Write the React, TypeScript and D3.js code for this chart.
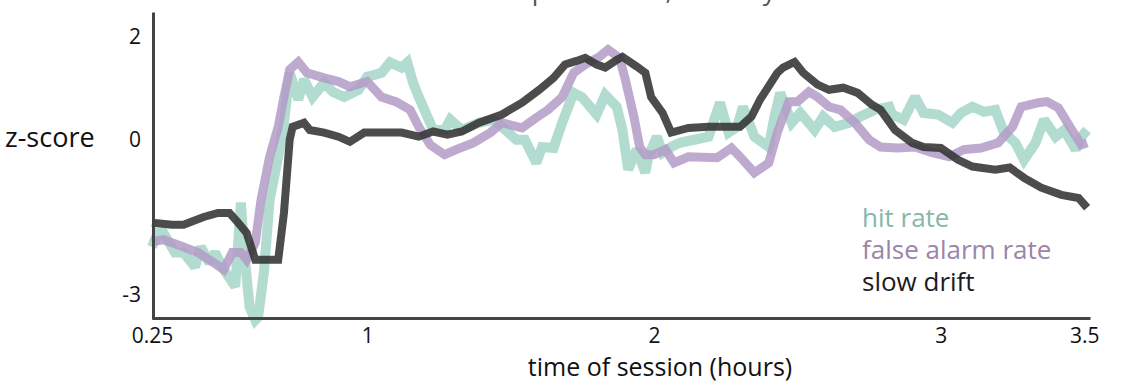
import React, { useEffect, useRef } from "react";
import * as d3 from "d3";

// hit rate (z-scored)
const hitTime = [0.25, 0.27, 0.29, 0.33, 0.36, 0.4, 0.42, 0.45, 0.47, 0.5, 0.54, 0.56, 0.57, 0.59, 0.61, 0.62, 0.64, 0.66, 0.69, 0.71, 0.73, 0.76, 0.78, 0.81, 0.85, 0.88, 0.92, 0.97, 1.0, 1.05, 1.08, 1.12, 1.14, 1.16, 1.18, 1.21, 1.23, 1.27, 1.29, 1.33, 1.39, 1.44, 1.47, 1.52, 1.55, 1.59, 1.61, 1.65, 1.68, 1.72, 1.75, 1.8, 1.83, 1.87, 1.89, 1.91, 1.94, 1.97, 1.98, 2.01, 2.03, 2.06, 2.09, 2.14, 2.19, 2.23, 2.26, 2.29, 2.31, 2.35, 2.4, 2.42, 2.44, 2.48, 2.51, 2.56, 2.59, 2.63, 2.68, 2.72, 2.77, 2.82, 2.83, 2.87, 2.91, 2.94, 2.99, 3.04, 3.07, 3.11, 3.15, 3.19, 3.22, 3.26, 3.29, 3.33, 3.36, 3.4, 3.43, 3.47, 3.49, 3.51];
const hitZ = [-2.08, -1.81, -1.81, -2.19, -2.19, -2.47, -2.08, -2.39, -2.19, -2.52, -2.85, -1.22, -2.08, -3.24, -3.5, -3.44, -2.58, -1.17, -0.33, 0.33, 1.3, 0.78, 1.17, 0.83, 1.11, 0.93, 0.83, 0.97, 1.22, 1.3, 1.5, 1.4, 1.5, 1.11, 0.83, 0.45, 0.19, 0.19, 0.39, 0.19, 0.33, 0.39, 0.25, 0.0, 0.0, -0.45, -0.14, -0.16, 0.33, 0.91, 0.82, 0.49, 0.87, 0.64, 0.19, -0.58, -0.19, -0.64, -0.33, 0.06, -0.25, -0.14, -0.06, 0.0, 0.06, 0.72, 0.14, 0.25, 0.64, 0.06, -0.14, 0.45, 0.91, 0.33, 0.52, 0.19, 0.45, 0.25, 0.33, 0.45, 0.58, 0.64, 0.49, 0.39, 0.83, 0.52, 0.49, 0.33, 0.52, 0.64, 0.54, 0.58, 0.14, -0.06, -0.39, -0.06, 0.39, 0.06, 0.19, -0.19, 0.06, 0.19];

// false alarm rate (z-scored)
const faTime = [0.25, 0.29, 0.36, 0.41, 0.46, 0.5, 0.53, 0.56, 0.58, 0.61, 0.63, 0.66, 0.69, 0.71, 0.73, 0.76, 0.79, 0.85, 0.9, 0.94, 1.0, 1.05, 1.1, 1.15, 1.18, 1.22, 1.27, 1.31, 1.37, 1.43, 1.47, 1.54, 1.59, 1.63, 1.68, 1.72, 1.76, 1.81, 1.84, 1.88, 1.9, 1.93, 1.95, 1.97, 2.0, 2.04, 2.07, 2.12, 2.22, 2.27, 2.3, 2.35, 2.4, 2.43, 2.47, 2.5, 2.54, 2.57, 2.61, 2.65, 2.7, 2.75, 2.79, 2.85, 2.91, 2.97, 3.03, 3.08, 3.14, 3.2, 3.25, 3.28, 3.34, 3.37, 3.41, 3.45, 3.49, 3.51];
const faZ = [-1.98, -1.94, -2.08, -2.19, -2.37, -2.52, -2.19, -2.19, -2.33, -2.0, -1.17, -0.33, 0.25, 0.83, 1.36, 1.51, 1.3, 1.2, 1.13, 1.03, 1.13, 0.83, 0.74, 0.58, 0.25, -0.1, -0.29, -0.19, -0.06, 0.14, 0.33, 0.23, 0.43, 0.58, 0.83, 1.3, 1.46, 1.61, 1.75, 1.59, 1.17, 0.45, -0.14, -0.29, -0.29, -0.19, -0.45, -0.33, -0.35, -0.16, -0.33, -0.64, -0.45, 0.14, 0.74, 0.74, 0.93, 0.83, 0.64, 0.58, 0.33, 0.0, -0.14, -0.16, -0.14, -0.25, -0.33, -0.19, -0.16, -0.06, 0.25, 0.64, 0.72, 0.74, 0.62, 0.25, -0.1, -0.06];

// slow drift (z-scored)
const driftTime = [0.25, 0.32, 0.36, 0.43, 0.48, 0.52, 0.55, 0.58, 0.61, 0.69, 0.71, 0.73, 0.74, 0.78, 0.8, 0.85, 0.9, 0.94, 0.99, 1.06, 1.12, 1.18, 1.23, 1.28, 1.33, 1.39, 1.47, 1.54, 1.6, 1.65, 1.69, 1.73, 1.76, 1.8, 1.83, 1.87, 1.89, 1.94, 1.97, 1.99, 2.03, 2.06, 2.12, 2.19, 2.3, 2.34, 2.37, 2.43, 2.45, 2.49, 2.52, 2.57, 2.61, 2.66, 2.71, 2.76, 2.79, 2.84, 2.9, 2.94, 3.0, 3.06, 3.11, 3.19, 3.24, 3.29, 3.35, 3.42, 3.48, 3.51];
const driftZ = [-1.61, -1.65, -1.65, -1.5, -1.42, -1.42, -1.61, -1.81, -2.33, -2.33, -1.42, 0.0, 0.25, 0.33, 0.19, 0.14, 0.06, -0.04, 0.14, 0.14, 0.14, 0.06, 0.16, 0.1, 0.16, 0.33, 0.49, 0.72, 0.97, 1.2, 1.46, 1.53, 1.59, 1.46, 1.4, 1.55, 1.61, 1.42, 1.3, 0.83, 0.52, 0.14, 0.23, 0.25, 0.25, 0.45, 0.78, 1.3, 1.4, 1.51, 1.3, 1.07, 0.97, 1.01, 0.91, 0.68, 0.58, 0.19, -0.06, -0.14, -0.16, -0.39, -0.52, -0.58, -0.54, -0.74, -0.93, -1.07, -1.13, -1.32];

const xTicks = [0.25, 1, 2, 3, 3.5];
const yTicks = [2, 0, -3];

const legendNames = ["hit rate", "false alarm rate", "slow drift"];
const legendColors = ["#86b7a8", "#9b85a9", "#1c1c1c"];

const FONT = "'Open Sans', 'Noto Sans', sans-serif";

const App = () => {
  const svgRef = useRef(null);
  const width = 1134;
  const height = 392;

  useEffect(() => {
    document.body.style.margin = "0";
    const svg = d3.select(svgRef.current);
    svg.selectAll("*").remove();

    const x = d3.scaleLinear().domain([0.25, 3.52]).range([152, 1090]);
    const y = d3.scaleLinear().domain([-3.48, 2.48]).range([319, 12]);

    const line = d3
      .line()
      .x((d) => x(d[0]))
      .y((d) => y(d[1]));

    const series = [
      { t: hitTime, v: hitZ, color: "#9fd3c4", w: 10, op: 0.8 },
      { t: faTime, v: faZ, color: "#b39bc5", w: 9, op: 0.85 },
      { t: driftTime, v: driftZ, color: "#333333", w: 8, op: 0.88 },
    ];

    series.forEach((s) => {
      svg
        .append("path")
        .datum(s.t.map((t, i) => [t, s.v[i]]))
        .attr("d", line)
        .attr("fill", "none")
        .attr("stroke", s.color)
        .attr("stroke-width", s.w)
        .attr("stroke-opacity", s.op)
        .attr("stroke-linejoin", "miter")
        .attr("stroke-miterlimit", 2);
    });

    // axes
    const xAxis = svg
      .append("g")
      .attr("transform", `translate(0, 318)`)
      .call(
        d3
          .axisBottom(x)
          .tickValues(xTicks)
          .tickSize(0)
          .tickSizeOuter(0)
          .tickPadding(10)
          .tickFormat((d) => String(d))
      );
    const yAxis = svg
      .append("g")
      .attr("transform", `translate(153, 0)`)
      .call(
        d3
          .axisLeft(y)
          .tickValues(yTicks)
          .tickSize(0)
          .tickSizeOuter(0)
          .tickPadding(12)
          .tickFormat((d) => String(d))
      );

    [xAxis, yAxis].forEach((g) => {
      g.select(".domain").attr("stroke", "#444").attr("stroke-width", 3);
      g.selectAll("text")
        .attr("fill", "#111")
        .style("font-family", FONT)
        .style("font-size", "21px");
    });

    // axis titles
    svg
      .append("text")
      .attr("x", 660)
      .attr("y", 376)
      .attr("text-anchor", "middle")
      .style("font-family", FONT)
      .style("font-size", "25px")
      .attr("fill", "#111")
      .text("time of session (hours)");

    svg
      .append("text")
      .attr("x", 5)
      .attr("y", 147)
      .style("font-family", FONT)
      .style("font-size", "27px")
      .attr("fill", "#111")
      .text("z-score");

    // title, mostly cut off above the frame
    svg
      .append("text")
      .attr("x", 465)
      .attr("y", 0)
      .style("font-family", FONT)
      .style("font-size", "26px")
      .attr("fill", "#555")
      .text("example session, monkey");

    // legend
    svg
      .selectAll(".legend")
      .data(legendNames)
      .enter()
      .append("text")
      .attr("class", "legend")
      .attr("x", 862)
      .attr("y", (d, i) => 227 + i * 32)
      .style("font-family", FONT)
      .style("font-size", "26px")
      .attr("fill", (d, i) => legendColors[i])
      .text((d) => d);
  }, []);

  return (
    <div style={{ position: "absolute", left: 0, top: 0 }}>
      <svg ref={svgRef} width={width} height={height}></svg>
    </div>
  );
};

export default App;
